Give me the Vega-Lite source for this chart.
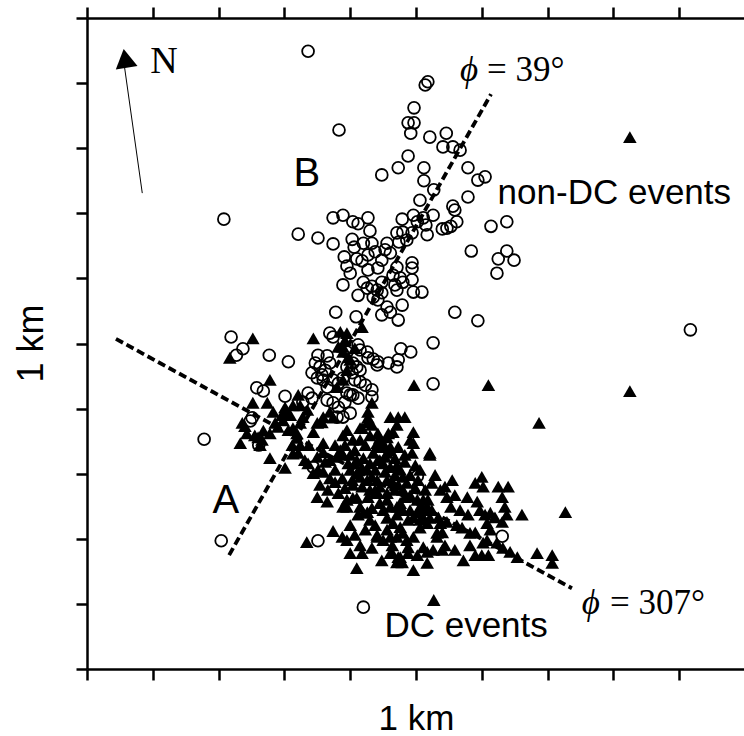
{
"$schema": "https://vega.github.io/schema/vega-lite/v6.json",
"width": 658, "height": 651,
"autosize": {"type": "none"},
"padding": {"left": 87, "top": 18, "right": 0, "bottom": 67},
"background": "white",
"config": {"view": {"stroke": null}},
"datasets": {
"nondc": [{"x":336,"y":949},{"x":514,"y":897},{"x":518,"y":902},{"x":497,"y":862},{"x":488,"y":839},{"x":497,"y":839},{"x":492,"y":823},{"x":383,"y":828},{"x":521,"y":817},{"x":546,"y":823},{"x":541,"y":802},{"x":556,"y":802},{"x":567,"y":797},{"x":488,"y":788},{"x":473,"y":770},{"x":448,"y":759},{"x":512,"y":770},{"x":512,"y":750},{"x":579,"y":770},{"x":594,"y":751},{"x":605,"y":756},{"x":527,"y":736},{"x":506,"y":720},{"x":579,"y":725},{"x":556,"y":711},{"x":559,"y":705},{"x":208,"y":691},{"x":526,"y":697},{"x":374,"y":693},{"x":389,"y":697},{"x":404,"y":687},{"x":412,"y":684},{"x":427,"y":693},{"x":430,"y":673},{"x":479,"y":691},{"x":496,"y":697},{"x":502,"y":687},{"x":511,"y":693},{"x":515,"y":682},{"x":540,"y":676},{"x":547,"y":677},{"x":553,"y":680},{"x":562,"y":687},{"x":614,"y":680},{"x":638,"y":687},{"x":517,"y":667},{"x":321,"y":668},{"x":351,"y":662},{"x":374,"y":653},{"x":403,"y":660},{"x":406,"y":648},{"x":420,"y":654},{"x":433,"y":654},{"x":438,"y":641},{"x":427,"y":636},{"x":391,"y":633},{"x":395,"y":619},{"x":400,"y":608},{"x":410,"y":630},{"x":418,"y":627},{"x":389,"y":590},{"x":412,"y":574},{"x":427,"y":613},{"x":442,"y":616},{"x":448,"y":628},{"x":453,"y":644},{"x":456,"y":654},{"x":461,"y":639},{"x":471,"y":670},{"x":480,"y":671},{"x":494,"y":670},{"x":486,"y":659},{"x":474,"y":656},{"x":494,"y":624},{"x":494,"y":616},{"x":471,"y":617},{"x":465,"y":605},{"x":476,"y":601},{"x":480,"y":594},{"x":494,"y":598},{"x":420,"y":594},{"x":426,"y":585},{"x":433,"y":588},{"x":441,"y":582},{"x":448,"y":578},{"x":435,"y":571},{"x":442,"y":567},{"x":448,"y":594},{"x":468,"y":590},{"x":471,"y":582},{"x":496,"y":579},{"x":509,"y":579},{"x":479,"y":559},{"x":456,"y":556},{"x":461,"y":548},{"x":448,"y":544},{"x":473,"y":536},{"x":378,"y":548},{"x":409,"y":541},{"x":584,"y":642},{"x":638,"y":642},{"x":625,"y":630},{"x":649,"y":628},{"x":623,"y":608},{"x":559,"y":548},{"x":594,"y":535},{"x":526,"y":501},{"x":477,"y":492},{"x":492,"y":487},{"x":917,"y":521},{"x":369,"y":516},{"x":374,"y":510},{"x":473,"y":475},{"x":471,"y":464},{"x":458,"y":470},{"x":441,"y":467},{"x":427,"y":478},{"x":435,"y":476},{"x":415,"y":490},{"x":426,"y":487},{"x":410,"y":464},{"x":415,"y":459},{"x":403,"y":455},{"x":351,"y":482},{"x":365,"y":481},{"x":347,"y":470},{"x":354,"y":464},{"x":362,"y":459},{"x":369,"y":470},{"x":342,"y":455},{"x":357,"y":452},{"x":277,"y":482},{"x":306,"y":472},{"x":219,"y":510},{"x":237,"y":492},{"x":227,"y":482},{"x":258,"y":432},{"x":268,"y":427},{"x":301,"y":419},{"x":336,"y":424},{"x":342,"y":416},{"x":395,"y":424},{"x":404,"y":421},{"x":415,"y":441},{"x":423,"y":436},{"x":433,"y":429},{"x":526,"y":438},{"x":350,"y":447},{"x":359,"y":444},{"x":365,"y":433},{"x":374,"y":444},{"x":382,"y":439},{"x":389,"y":447},{"x":407,"y":444},{"x":328,"y":410},{"x":365,"y":413},{"x":374,"y":409},{"x":382,"y":402},{"x":392,"y":410},{"x":380,"y":387},{"x":389,"y":387},{"x":400,"y":393},{"x":251,"y":386},{"x":248,"y":381},{"x":178,"y":353},{"x":261,"y":344},{"x":344,"y":310},{"x":502,"y":296},{"x":503,"y":278},{"x":631,"y":204},{"x":351,"y":197},{"x":204,"y":197},{"x":420,"y":95},{"x":412,"y":498},{"x":442,"y":472},{"x":395,"y":487},{"x":404,"y":470},{"x":395,"y":464},{"x":433,"y":418},{"x":400,"y":421},{"x":412,"y":416}],
"dc": [{"x":825,"y":817},{"x":825,"y":427},{"x":610,"y":436},{"x":497,"y":436},{"x":687,"y":378},{"x":727,"y":241},{"x":527,"y":106},{"x":217,"y":478},{"x":252,"y":508},{"x":344,"y":508},{"x":278,"y":444},{"x":252,"y":409},{"x":274,"y":409},{"x":240,"y":373},{"x":233,"y":347},{"x":243,"y":362},{"x":236,"y":378},{"x":255,"y":359},{"x":268,"y":366},{"x":260,"y":356},{"x":263,"y":344},{"x":278,"y":362},{"x":286,"y":378},{"x":278,"y":324},{"x":301,"y":309},{"x":298,"y":382},{"x":309,"y":390},{"x":313,"y":370},{"x":319,"y":355},{"x":324,"y":344},{"x":312,"y":344},{"x":306,"y":367},{"x":304,"y":393},{"x":321,"y":421},{"x":324,"y":405},{"x":301,"y":402},{"x":296,"y":390},{"x":328,"y":387},{"x":324,"y":378},{"x":319,"y":362},{"x":418,"y":525},{"x":395,"y":516},{"x":392,"y":505},{"x":389,"y":495},{"x":385,"y":518},{"x":382,"y":495},{"x":389,"y":487},{"x":397,"y":479},{"x":407,"y":493},{"x":400,"y":475},{"x":395,"y":459},{"x":389,"y":444},{"x":380,"y":433},{"x":331,"y":321},{"x":336,"y":316},{"x":344,"y":301},{"x":359,"y":347},{"x":359,"y":333},{"x":359,"y":387},{"x":369,"y":395},{"x":357,"y":379},{"x":369,"y":321},{"x":380,"y":326},{"x":389,"y":329},{"x":397,"y":316},{"x":410,"y":321},{"x":420,"y":324},{"x":400,"y":306},{"x":410,"y":301},{"x":426,"y":306},{"x":433,"y":295},{"x":441,"y":290},{"x":430,"y":316},{"x":445,"y":321},{"x":450,"y":341},{"x":441,"y":347},{"x":456,"y":356},{"x":433,"y":409},{"x":426,"y":379},{"x":433,"y":375},{"x":418,"y":370},{"x":395,"y":367},{"x":389,"y":359},{"x":427,"y":395},{"x":427,"y":386},{"x":415,"y":370},{"x":374,"y":386},{"x":461,"y":387},{"x":473,"y":387},{"x":483,"y":387},{"x":471,"y":375},{"x":465,"y":364},{"x":496,"y":364},{"x":496,"y":347},{"x":494,"y":332},{"x":521,"y":332},{"x":445,"y":355},{"x":450,"y":347},{"x":441,"y":341},{"x":435,"y":332},{"x":456,"y":332},{"x":461,"y":336},{"x":468,"y":324},{"x":471,"y":313},{"x":476,"y":306},{"x":480,"y":295},{"x":486,"y":286},{"x":461,"y":310},{"x":450,"y":316},{"x":442,"y":321},{"x":415,"y":295},{"x":426,"y":290},{"x":456,"y":290},{"x":465,"y":286},{"x":473,"y":283},{"x":480,"y":275},{"x":491,"y":267},{"x":385,"y":336},{"x":350,"y":326},{"x":321,"y":332},{"x":359,"y":303},{"x":407,"y":316},{"x":404,"y":352},{"x":377,"y":344},{"x":350,"y":264},{"x":365,"y":257},{"x":382,"y":270},{"x":395,"y":260},{"x":389,"y":249},{"x":410,"y":263},{"x":415,"y":249},{"x":412,"y":237},{"x":420,"y":240},{"x":438,"y":270},{"x":404,"y":263},{"x":426,"y":241},{"x":441,"y":272},{"x":456,"y":270},{"x":395,"y":249},{"x":374,"y":212},{"x":388,"y":203},{"x":400,"y":221},{"x":395,"y":198},{"x":400,"y":178},{"x":418,"y":178},{"x":410,"y":155},{"x":334,"y":195},{"x":438,"y":221},{"x":441,"y":206},{"x":456,"y":214},{"x":461,"y":203},{"x":450,"y":244},{"x":456,"y":232},{"x":465,"y":224},{"x":476,"y":218},{"x":480,"y":209},{"x":471,"y":203},{"x":486,"y":198},{"x":488,"y":187},{"x":496,"y":203},{"x":464,"y":178},{"x":473,"y":172},{"x":471,"y":164},{"x":488,"y":178},{"x":502,"y":175},{"x":511,"y":187},{"x":517,"y":180},{"x":526,"y":183},{"x":496,"y":152},{"x":517,"y":163},{"x":506,"y":217},{"x":517,"y":224},{"x":511,"y":233},{"x":518,"y":260},{"x":524,"y":244},{"x":532,"y":209},{"x":456,"y":260},{"x":461,"y":249},{"x":471,"y":249},{"x":476,"y":255},{"x":480,"y":244},{"x":491,"y":244},{"x":502,"y":260},{"x":506,"y":249},{"x":496,"y":233},{"x":483,"y":264},{"x":438,"y":275},{"x":441,"y":203},{"x":450,"y":198},{"x":461,"y":178},{"x":476,"y":172},{"x":540,"y":183},{"x":479,"y":164},{"x":555,"y":290},{"x":544,"y":280},{"x":547,"y":264},{"x":578,"y":264},{"x":590,"y":286},{"x":600,"y":295},{"x":602,"y":280},{"x":625,"y":280},{"x":640,"y":280},{"x":631,"y":264},{"x":593,"y":257},{"x":597,"y":244},{"x":605,"y":237},{"x":613,"y":240},{"x":635,"y":249},{"x":638,"y":237},{"x":620,"y":233},{"x":608,"y":224},{"x":613,"y":214},{"x":631,"y":226},{"x":661,"y":237},{"x":562,"y":221},{"x":570,"y":217},{"x":582,"y":209},{"x":590,"y":210},{"x":602,"y":194},{"x":608,"y":198},{"x":623,"y":194},{"x":632,"y":186},{"x":643,"y":180},{"x":654,"y":172},{"x":537,"y":224},{"x":540,"y":210},{"x":532,"y":203},{"x":547,"y":226},{"x":534,"y":233},{"x":521,"y":232},{"x":517,"y":249},{"x":684,"y":178},{"x":707,"y":175},{"x":707,"y":163},{"x":572,"y":167},{"x":600,"y":175},{"x":610,"y":175},{"x":506,"y":229},{"x":514,"y":244},{"x":442,"y":362},{"x":458,"y":362},{"x":448,"y":347},{"x":461,"y":341},{"x":521,"y":329},{"x":423,"y":344},{"x":407,"y":336},{"x":392,"y":344},{"x":468,"y":298},{"x":453,"y":303},{"x":418,"y":280},{"x":430,"y":275},{"x":445,"y":280},{"x":404,"y":283},{"x":499,"y":313},{"x":503,"y":290},{"x":514,"y":275},{"x":483,"y":318},{"x":377,"y":306},{"x":388,"y":293},{"x":403,"y":290},{"x":392,"y":278},{"x":377,"y":287},{"x":366,"y":275},{"x":427,"y":264},{"x":445,"y":255},{"x":433,"y":247},{"x":468,"y":275},{"x":499,"y":278},{"x":511,"y":260},{"x":503,"y":241},{"x":488,"y":229},{"x":471,"y":237},{"x":430,"y":229},{"x":423,"y":214},{"x":407,"y":206},{"x":415,"y":190},{"x":433,"y":186},{"x":448,"y":167},{"x":464,"y":190},{"x":415,"y":352},{"x":430,"y":359},{"x":400,"y":329},{"x":418,"y":309},{"x":438,"y":306},{"x":453,"y":326},{"x":473,"y":341},{"x":483,"y":329},{"x":491,"y":298},{"x":362,"y":318},{"x":351,"y":306},{"x":369,"y":293},{"x":354,"y":283},{"x":491,"y":352},{"x":506,"y":306},{"x":529,"y":298},{"x":537,"y":275},{"x":524,"y":286},{"x":559,"y":267},{"x":567,"y":244},{"x":579,"y":237},{"x":553,"y":249},{"x":544,"y":190},{"x":559,"y":183},{"x":582,"y":190},{"x":590,"y":175},{"x":283,"y":395},{"x":290,"y":372},{"x":266,"y":352},{"x":313,"y":331},{"x":337,"y":344},{"x":344,"y":364},{"x":350,"y":378},{"x":335,"y":398},{"x":313,"y":405}],
"lines": [{"x":216,"y":175,"x2":614,"y2":883},{"x":44,"y":507,"x2":737,"y2":124}],
"northline": [{"x":84,"y":731,"x2":56,"y2":932}],
"northhead": [{"x":58,"y":938}],
"bigletters": [{"x":334,"y":742,"text":"B"},{"x":211,"y":240,"text":"A"}],
"labels": [{"x":624,"y":714,"text":"non-DC events"},{"x":452,"y":49,"text":"DC events"}],
"phi": [{"x":567,"y":903,"text":"ϕ"},{"x":752,"y":84,"text":"ϕ"}],
"angles": [{"x":608,"y":903,"text":"= 39°"},{"x":795,"y":84,"text":"= 307°"}],
"nlabel": [{"x":96,"y":915,"text":"N"}]
},
"resolve": {"axis": {"x": "independent", "y": "independent"}},
"layer": [
{
"data": {"name": "lines"},
"mark": {"type": "rule", "strokeDash": [8, 4], "strokeWidth": 3.8, "color": "black"},
"encoding": {
"x": {"field": "x", "type": "quantitative", "scale": {"domain": [0, 1000], "nice": false, "zero": false}, "axis": null},
"y": {"field": "y", "type": "quantitative", "scale": {"domain": [0, 1000], "nice": false, "zero": false},
"axis": {"orient": "left", "values": [0,100,200,300,400,500,600,700,800,900,1000], "labels": false, "tickSize": 11, "tickWidth": 2.5, "tickColor": "black", "domainColor": "black", "domainWidth": 2.5, "grid": false, "title": "1 km", "titleFont": "Liberation Sans", "titleFontSize": 36, "titleFontWeight": "normal", "titleColor": "black", "titleAngle": 270, "titleX": -45, "titleY": 325, "titleAlign": "center", "titleBaseline": "alphabetic"}},
"x2": {"field": "x2"},
"y2": {"field": "y2"}
}
},
{
"data": {"name": "northline"},
"mark": {"type": "rule", "strokeWidth": 1, "color": "black"},
"encoding": {
"x": {"field": "x", "type": "quantitative", "scale": {"domain": [0, 1000], "nice": false, "zero": false}, "axis": null},
"y": {"field": "y", "type": "quantitative", "scale": {"domain": [0, 1000], "nice": false, "zero": false}, "axis": null},
"x2": {"field": "x2"},
"y2": {"field": "y2"}
}
},
{
"data": {"name": "northhead"},
"mark": {"type": "point", "shape": "triangle-up", "filled": true, "fill": "black", "size": 484, "angle": -9, "opacity": 1, "strokeWidth": 0},
"encoding": {
"x": {"field": "x", "type": "quantitative", "scale": {"domain": [0, 1000], "nice": false, "zero": false}, "axis": null},
"y": {"field": "y", "type": "quantitative", "scale": {"domain": [0, 1000], "nice": false, "zero": false}, "axis": null}
}
},
{
"data": {"name": "dc"},
"mark": {"type": "point", "shape": "triangle-up", "filled": true, "fill": "black", "size": 185, "opacity": 1, "strokeWidth": 0},
"encoding": {
"x": {"field": "x", "type": "quantitative", "scale": {"domain": [0, 1000], "nice": false, "zero": false},
"axis": {"orient": "top", "values": [0,100,200,300,400,500,600,700,800,900,1000], "labels": false, "tickSize": 11, "tickWidth": 2.5, "tickColor": "black", "domainColor": "black", "domainWidth": 2.5, "grid": false, "title": null}},
"y": {"field": "y", "type": "quantitative", "scale": {"domain": [0, 1000], "nice": false, "zero": false}, "axis": null}
}
},
{
"data": {"name": "nondc"},
"mark": {"type": "point", "shape": "circle", "filled": false, "stroke": "black", "strokeWidth": 1.8, "size": 140, "opacity": 1},
"encoding": {
"x": {"field": "x", "type": "quantitative", "scale": {"domain": [0, 1000], "nice": false, "zero": false},
"axis": {"orient": "bottom", "values": [0,100,200,300,400,500,600,700,800,900,1000], "labels": false, "tickSize": 11, "tickWidth": 2.5, "tickColor": "black", "domainColor": "black", "domainWidth": 2.5, "grid": false, "title": "1 km", "titleFont": "Liberation Sans", "titleFontSize": 35, "titleFontWeight": "normal", "titleColor": "black", "titleX": 329, "titleY": 60, "titleAlign": "center", "titleBaseline": "alphabetic"}},
"y": {"field": "y", "type": "quantitative", "scale": {"domain": [0, 1000], "nice": false, "zero": false}, "axis": null}
}
},
{
"data": {"name": "bigletters"},
"mark": {"type": "text", "font": "Liberation Sans", "fontSize": 40, "align": "center", "baseline": "alphabetic", "color": "black"},
"encoding": {
"x": {"field": "x", "type": "quantitative", "scale": {"domain": [0, 1000], "nice": false, "zero": false}, "axis": null},
"y": {"field": "y", "type": "quantitative", "scale": {"domain": [0, 1000], "nice": false, "zero": false}, "axis": null},
"text": {"field": "text"}
}
},
{
"data": {"name": "labels"},
"mark": {"type": "text", "font": "Liberation Sans", "fontSize": 35, "align": "left", "baseline": "alphabetic", "color": "black"},
"encoding": {
"x": {"field": "x", "type": "quantitative", "scale": {"domain": [0, 1000], "nice": false, "zero": false}, "axis": null},
"y": {"field": "y", "type": "quantitative", "scale": {"domain": [0, 1000], "nice": false, "zero": false}, "axis": null},
"text": {"field": "text"}
}
},
{
"data": {"name": "phi"},
"mark": {"type": "text", "font": "Liberation Serif", "fontSize": 35, "fontStyle": "italic", "align": "left", "baseline": "alphabetic", "color": "black"},
"encoding": {
"x": {"field": "x", "type": "quantitative", "scale": {"domain": [0, 1000], "nice": false, "zero": false}, "axis": null},
"y": {"field": "y", "type": "quantitative", "scale": {"domain": [0, 1000], "nice": false, "zero": false}, "axis": null},
"text": {"field": "text"}
}
},
{
"data": {"name": "angles"},
"mark": {"type": "text", "font": "Liberation Serif", "fontSize": 35, "align": "left", "baseline": "alphabetic", "color": "black"},
"encoding": {
"x": {"field": "x", "type": "quantitative", "scale": {"domain": [0, 1000], "nice": false, "zero": false}, "axis": null},
"y": {"field": "y", "type": "quantitative", "scale": {"domain": [0, 1000], "nice": false, "zero": false}, "axis": null},
"text": {"field": "text"}
}
},
{
"data": {"name": "nlabel"},
"mark": {"type": "text", "font": "Liberation Serif", "fontSize": 38, "align": "left", "baseline": "alphabetic", "color": "black"},
"encoding": {
"x": {"field": "x", "type": "quantitative", "scale": {"domain": [0, 1000], "nice": false, "zero": false}, "axis": null},
"y": {"field": "y", "type": "quantitative", "scale": {"domain": [0, 1000], "nice": false, "zero": false}, "axis": null},
"text": {"field": "text"}
}
}
]
}
